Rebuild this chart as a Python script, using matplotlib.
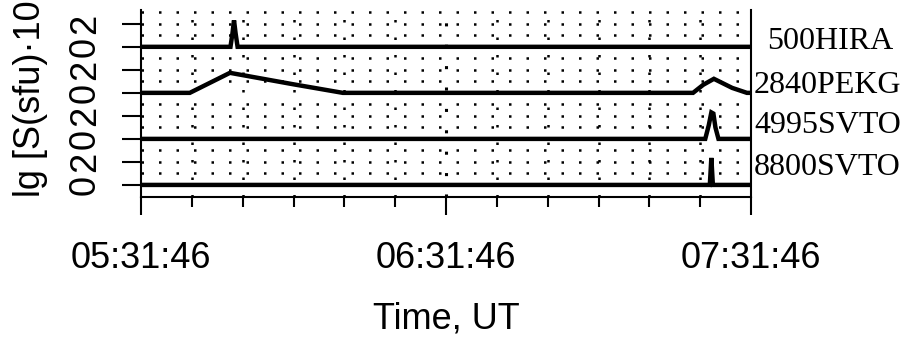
import matplotlib.pyplot as plt
from matplotlib.ticker import FixedLocator, MultipleLocator, FuncFormatter

# time in minutes after 05:31:46 UT, flux in lg units above the quiet level
t_500 = [0, 17.6, 18.0, 18.3, 18.6, 19.0, 120]
s_500 = [0, 0, 1.2, 2.3, 1.2, 0, 0]

t_2840 = [0, 9.6, 17.5, 29.9, 39.7, 108.6, 110.6, 112.7, 116.3, 119.2, 120]
s_2840 = [0, 0, 1.74, 0.75, 0, 0, 0.7, 1.22, 0.43, 0, 0]

t_4995 = [0, 111.0, 111.7, 112.2, 112.6, 113.0, 113.6, 120]
s_4995 = [0, 0, 1.2, 2.3, 2.2, 1.0, 0, 0]

t_8800 = [0, 111.9, 112.2, 112.5, 120]
s_8800 = [0, 0, 2.35, 0, 0]

stations = ["500HIRA", "2840PEKG", "4995SVTO", "8800SVTO"]
series = [(t_500, s_500), (t_2840, s_2840), (t_4995, s_4995), (t_8800, s_8800)]

tick_minutes = [0, 60, 120]
tick_labels = ["05:31:46", "06:31:46", "07:31:46"]
ytick_values = [0, 2, 4, 6, 8, 10, 12, 14]
ytick_labels = ["0", "2", "0", "2", "0", "2", "0", "2"]

panel_step = 4
label_y = [11.8, 8.0, 4.5, 0.9]
label_x = [1.026, 1.005, 1.005, 1.005]

plt.rcParams['font.family'] = ['Liberation Sans', 'DejaVu Sans']

fig = plt.figure(figsize=(9.08, 3.39), dpi=100)
ax = fig.add_axes([141 / 908, 1 - 197 / 339, 610 / 908, 187 / 339])

# sparse dotted grid
dots = (0, (1, 6))
for m in range(10, 120, 10):
    ax.plot([m, m], [-1.05, 15.3], color='black', lw=1.8 if m != 60 else 2.2,
            linestyle=dots, zorder=1)
for k in range(len(stations)):
    base = panel_step * k
    for d in (1, 2, 3):
        ax.plot([0, 120], [base + d, base + d], color='black', lw=1.8,
                linestyle=dots, zorder=1)

n = len(series)
for i, (t, s) in enumerate(series):
    off = panel_step * (n - 1 - i)
    ax.plot(t, [v + off for v in s], color='black', lw=3.2, zorder=3,
            solid_joinstyle='miter')
    ax.text(label_x[i], label_y[i], stations[i], transform=ax.get_yaxis_transform(),
            ha='left', va='baseline', fontsize=23, family='Liberation Serif')

ax.set_xlim(0, 120)
ax.set_ylim(-1.05, 15.2)

ax.xaxis.set_major_locator(FixedLocator(tick_minutes))
ax.xaxis.set_major_formatter(FuncFormatter(lambda v, p: tick_labels[tick_minutes.index(int(round(v)))]))
ax.xaxis.set_minor_locator(MultipleLocator(10))
ax.tick_params(axis='x', which='major', length=13, width=1.5, pad=19, labelsize=26)
ax.tick_params(axis='x', which='minor', length=7, width=1.5)

ax.set_yticks(ytick_values)
ax.set_yticklabels(ytick_labels)
ax.tick_params(axis='y', length=13.5, width=1.5, pad=14, labelsize=26, labelrotation=90)
for lab in ax.get_yticklabels():
    lab.set_va('center')

ax.spines['top'].set_visible(False)
for side in ('left', 'right', 'bottom'):
    ax.spines[side].set_linewidth(1.5)

ax.set_xlabel("Time, UT", fontsize=26, labelpad=18)
fig.text(31 / 908, 1 - 99 / 339, "lg [S(sfu)·10", rotation=90, fontsize=26,
         ha='center', va='center')

fig.savefig("out.png", dpi=100)
